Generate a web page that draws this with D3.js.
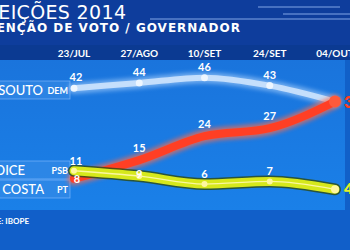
<!DOCTYPE html>
<html>
<head>
<meta charset="utf-8">
<script src="https://cdn.jsdelivr.net/npm/d3@7"></script>
<style>
  html, body { margin: 0; padding: 0; background: #0d3e9e; overflow: hidden; }
  svg { display: block; font-family: Lato, "Open Sans", sans-serif; }
</style>
</head>
<body>
<div id="chart"></div>
<script>
const dates = ["23/JUL", "27/AGO", "10/SET", "24/SET", "04/OUT"];
const souto = [42, 44, 46, 43, 37];
const costa = [8, 15, 24, 27, 37];
const lidice = [11, 9, 6, 7, 4];

const width = 350, height = 250;
const svg = d3.select("#chart").append("svg")
  .attr("width", width)
  .attr("height", height);

const defs = svg.append("defs");
const bg = defs.append("linearGradient").attr("id", "plotbg").attr("x1", 0).attr("y1", 0).attr("x2", 0).attr("y2", 1);
bg.append("stop").attr("offset", "0%").attr("stop-color", "#1a74dc");
bg.append("stop").attr("offset", "100%").attr("stop-color", "#1a80e8");
const glow = defs.append("filter").attr("id", "glow").attr("x", "-10%").attr("y", "-50%").attr("width", "120%").attr("height", "200%");
glow.append("feGaussianBlur").attr("stdDeviation", 2.2);
const soft = defs.append("filter").attr("id", "soft");
soft.append("feGaussianBlur").attr("stdDeviation", 0.6);

// background bands
svg.append("rect").attr("width", width).attr("height", 45).attr("fill", "#0e3d9c");
svg.append("rect").attr("y", 45).attr("width", width).attr("height", 15).attr("fill", "#0b3a92");
svg.append("rect").attr("y", 60).attr("width", 345).attr("height", 150).attr("fill", "url(#plotbg)");
svg.append("rect").attr("x", 345).attr("y", 60).attr("width", 5).attr("height", 150).attr("fill", "#1160c8");
svg.append("rect").attr("y", 210).attr("width", width).attr("height", 40).attr("fill", "#115fc9");

// header streaks
[[258, 340, 7], [283, 350, 14], [150, 350, 19]].forEach(([a, b, yy]) => {
  svg.append("line").attr("x1", a).attr("x2", b).attr("y1", yy).attr("y2", yy)
    .attr("stroke", "#a9c8ff").attr("stroke-width", 1).attr("opacity", 0.75);
});

svg.append("text").attr("x", -25).attr("y", 19)
  .attr("textLength", 151).attr("lengthAdjust", "spacing")
  .attr("fill", "#fff").style("font-family", "'DejaVu Sans', sans-serif")
  .style("font-size", "19px")
  .text("ELEIÇÕES 2014");
svg.append("text").attr("x", -29).attr("y", 32)
  .attr("textLength", 269).attr("lengthAdjust", "spacing")
  .attr("fill", "#fff").style("font-family", "'DejaVu Sans', sans-serif")
  .style("font-size", "12px").style("font-weight", 700)
  .text("INTENÇÃO DE VOTO / GOVERNADOR");

const x = d3.scalePoint().domain(dates).range([74, 335]);
const y = d3.scaleLinear().domain([0, 50]).range([200, 67]);

svg.append("g").selectAll("text")
  .data(dates)
  .join("text")
  .attr("x", d => x(d))
  .attr("y", 57)
  .attr("text-anchor", "middle")
  .attr("fill", "#fff")
  .style("font-size", "10px")
  .style("font-weight", 700)
  .text(d => d);

// candidate boxes
const boxes = [
  { name: "PAULO SOUTO", party: "DEM", y0: 81, nameEnd: 43 },
  { name: "LÍDICE", party: "PSB", y0: 161, nameEnd: 25 },
  { name: "RUI COSTA", party: "PT", y0: 180, nameEnd: 44 }
];
boxes.forEach(b => {
  svg.append("rect").attr("x", -2).attr("y", b.y0).attr("width", 72).attr("height", 18)
    .attr("fill", "#3d8ee8").attr("fill-opacity", 0.55)
    .attr("stroke", "#8fc0ff").attr("stroke-opacity", 0.7).attr("stroke-width", 0.8);
  svg.append("text").attr("x", b.nameEnd).attr("y", b.y0 + 13.5).attr("text-anchor", "end")
    .attr("fill", "#fff").style("font-size", "13px").style("font-weight", 500).text(b.name);
  svg.append("text").attr("x", 68).attr("y", b.y0 + 13).attr("text-anchor", "end")
    .attr("fill", "#fff").style("font-size", "9px").style("font-weight", 700).text(b.party);
});

const line = d3.line()
  .x((d, i) => x(dates[i]))
  .y(d => y(d))
  .curve(d3.curveMonotoneX);

// Souto
svg.append("path").attr("d", line(souto)).attr("fill", "none")
  .attr("stroke", "#bcdcff").attr("stroke-width", 11).attr("stroke-linecap", "round")
  .attr("opacity", 0.55).attr("filter", "url(#glow)");
svg.append("path").attr("d", line(souto)).attr("fill", "none")
  .attr("stroke", "#d9ebff").attr("stroke-width", 6).attr("stroke-linecap", "round").attr("opacity", 0.8);
svg.append("g").selectAll("circle").data(souto.slice(0, 4)).join("circle")
  .attr("cx", (d, i) => x(dates[i])).attr("cy", d => y(d)).attr("r", 3.5)
  .attr("fill", "#f2f8ff").attr("opacity", 0.9);

// Costa
svg.append("path").attr("d", line(costa)).attr("fill", "none")
  .attr("stroke", "#ff6a4a").attr("stroke-width", 13).attr("stroke-linecap", "round")
  .attr("opacity", 0.7).attr("filter", "url(#glow)");
svg.append("path").attr("d", line(costa)).attr("fill", "none")
  .attr("stroke", "#ff3f24").attr("stroke-width", 8).attr("stroke-linecap", "round");
svg.append("circle").attr("cx", x(dates[4])).attr("cy", y(costa[4])).attr("r", 6)
  .attr("fill", "#ff5a3a").attr("filter", "url(#soft)");

// Lídice
svg.append("path").attr("d", line(lidice)).attr("fill", "none")
  .attr("stroke", "#2d4a12").attr("stroke-width", 12).attr("stroke-linecap", "round").attr("opacity", 0.8);
svg.append("path").attr("d", line(lidice)).attr("fill", "none")
  .attr("stroke", "#d6e81c").attr("stroke-width", 9).attr("stroke-linecap", "round");
svg.append("path").attr("d", line(lidice)).attr("fill", "none")
  .attr("stroke", "#fbf7a0").attr("stroke-width", 1.3);
svg.append("g").selectAll("circle").data(lidice).join("circle")
  .attr("cx", (d, i) => x(dates[i])).attr("cy", d => y(d)).attr("r", (d, i) => i === 4 ? 4 : 3)
  .attr("fill", "#fff7a0");

// value labels
const labelStyle = sel => sel.attr("text-anchor", "middle").attr("fill", "#fff")
  .style("font-size", "11px").style("font-weight", 700);
svg.append("g").selectAll("text").data(souto.slice(0, 4)).join("text")
  .attr("x", (d, i) => x(dates[i]) + (i === 0 ? 2 : 0)).attr("y", d => y(d) - 7)
  .call(labelStyle).text(d => d);
svg.append("g").selectAll("text").data(costa.slice(0, 4)).join("text")
  .attr("x", (d, i) => x(dates[i]) + (i === 0 ? 3 : 0))
  .attr("y", (d, i) => i === 0 ? y(d) + 4 : y(d) - 8)
  .call(labelStyle).text(d => d);
svg.append("g").selectAll("text").data(lidice.slice(0, 4)).join("text")
  .attr("x", (d, i) => x(dates[i]) + (i === 0 ? 2 : 0))
  .attr("y", (d, i) => i === 1 ? y(d) + 2 : y(d) - 6)
  .call(labelStyle).text(d => d);

// end labels (partly off-screen)
svg.append("text").attr("x", 344).attr("y", y(costa[4]) + 6).attr("fill", "#ff3f24")
  .style("font-size", "16px").style("font-weight", 800).text(costa[4]);
svg.append("text").attr("x", 344).attr("y", y(lidice[4]) + 5).attr("fill", "#e4f02a")
  .style("font-size", "15px").style("font-weight", 800).text(lidice[4]);

svg.append("text").attr("x", 29).attr("y", 224).attr("text-anchor", "end").attr("fill", "#fff")
  .style("font-size", "8px").style("font-weight", 700).text("FONTE: IBOPE");
</script>
</body>
</html>
